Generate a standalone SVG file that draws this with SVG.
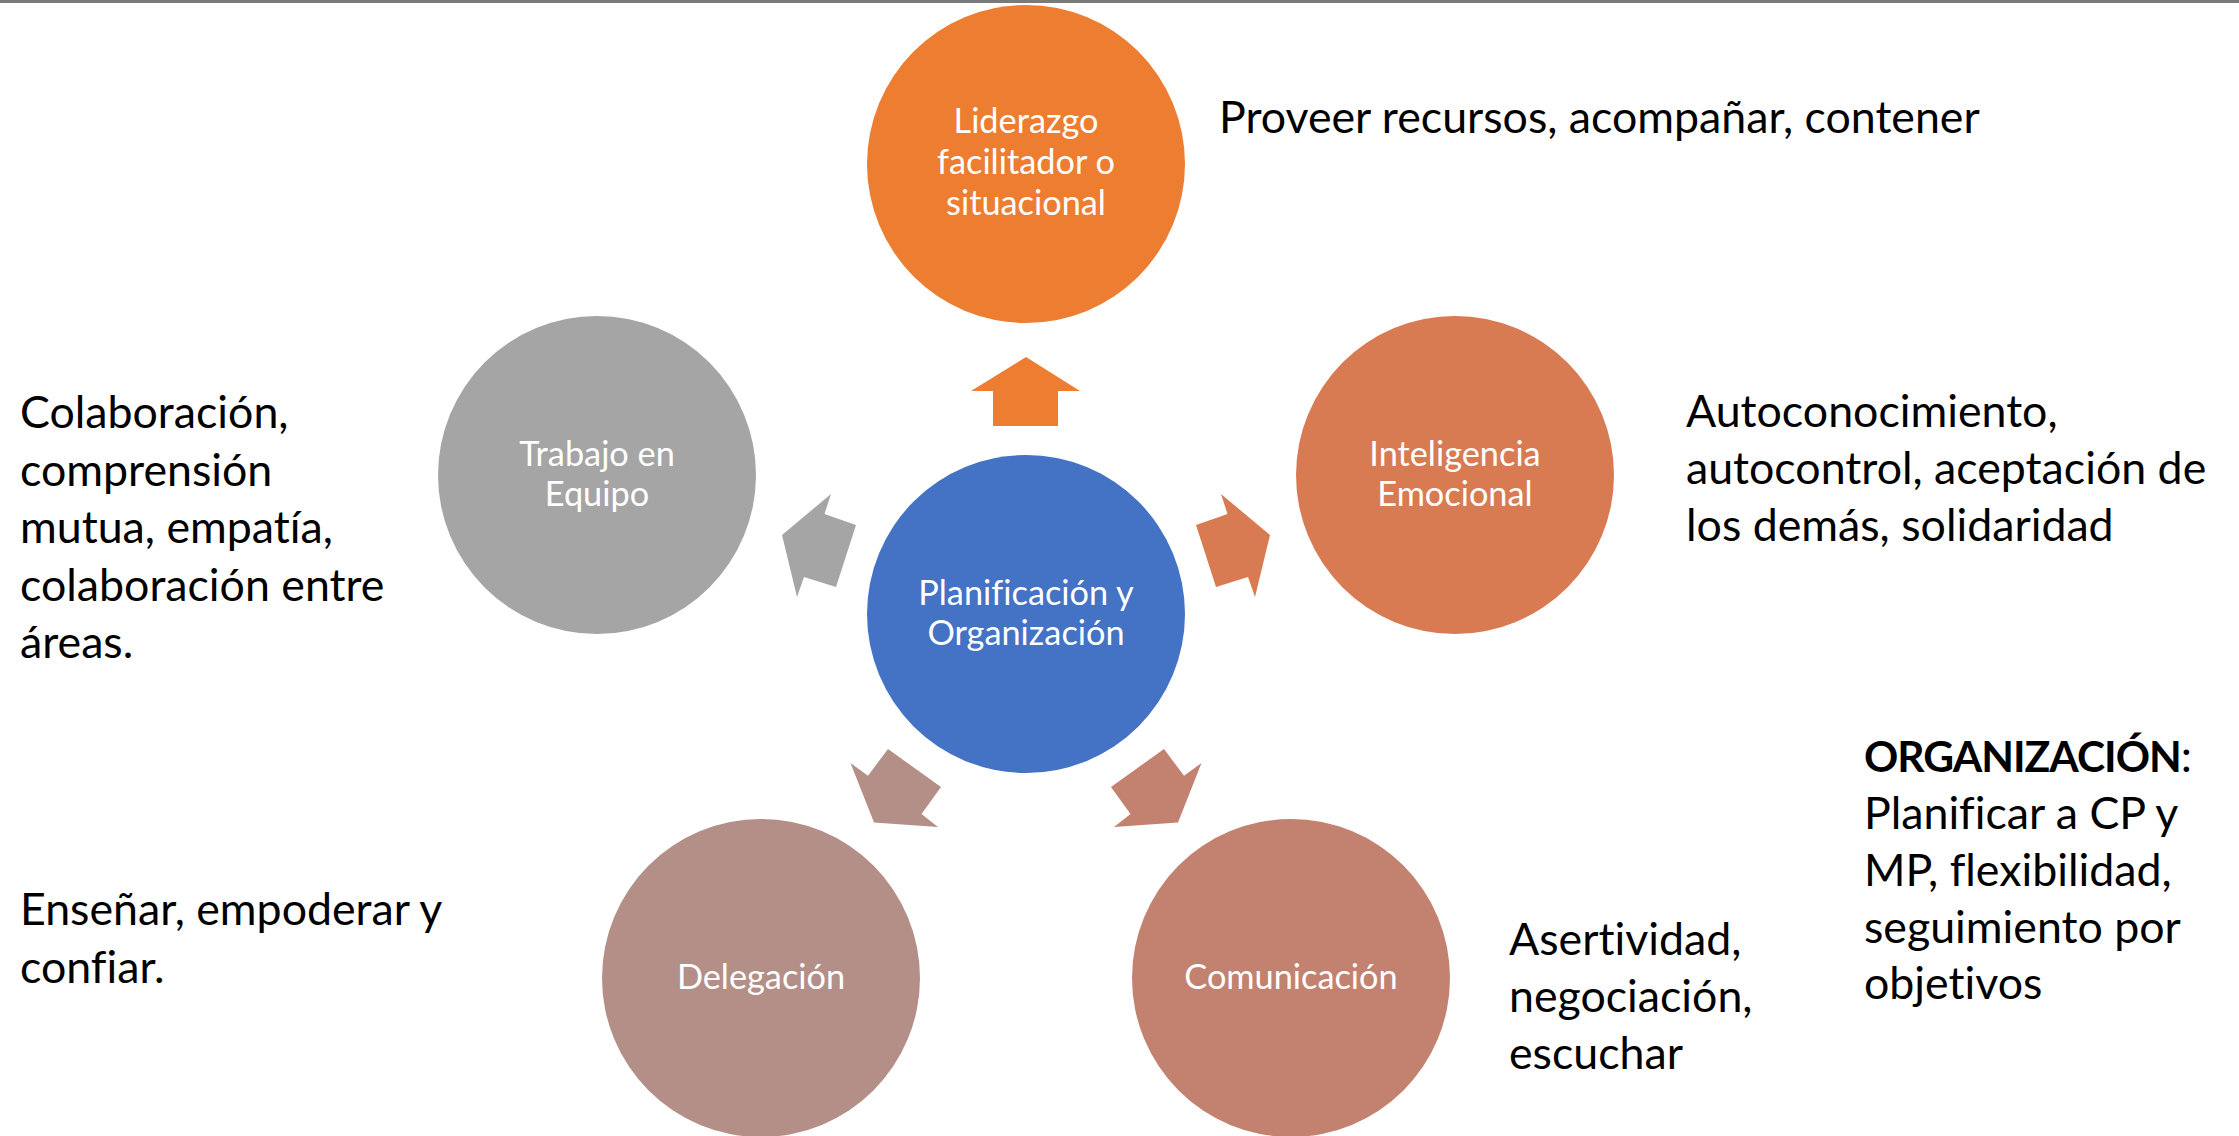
<svg xmlns="http://www.w3.org/2000/svg" width="2239" height="1136" viewBox="0 0 2239 1136">
<style>
text{font-variant-ligatures:none}
.lbl{font-family:Lato,"Open Sans","Liberation Sans",sans-serif;font-size:34.3px;fill:#ffffff;text-anchor:middle}
.txt{font-family:Lato,"Open Sans","Liberation Sans",sans-serif;font-size:44.7px;fill:#000000}
.b{font-weight:bold;font-size:42.5px;letter-spacing:-1px}
</style>
<rect x="0" y="0" width="2239" height="1136" fill="#ffffff"/>
<rect x="0" y="0" width="2239" height="3" fill="#7a7a7a"/>
<g id="connectors">
<polygon points="1026,357 1080,391 1058,391 1058,426 993,426 993,391 971,391" fill="#ED7D31"/>
<polygon points="1270,535 1255,597 1248,577 1216,587 1196,525 1227.5,514 1221,494" fill="#D87B52"/>
<polygon points="782,535 797,597 804,577 836,587 856,525 824.5,514 831,494" fill="#A5A5A5"/>
<polygon points="888,749 941,787 921.5,814 938,827 874,822.5 850.5,763 868,775.7" fill="#B38F88"/>
<polygon points="1164,749 1111,787 1130.5,814 1114,827 1178,822.5 1201.5,763 1184,775.7" fill="#C3826F"/>
</g>
<g id="center">
<circle cx="1026" cy="614" r="159" fill="#4472C4"/>
<text class="lbl" x="1026" y="605">Planificación y</text>
<text class="lbl" x="1026" y="645">Organización</text>
</g>
<g id="liderazgo">
<circle cx="1026" cy="164" r="159" fill="#ED7D31"/>
<text class="lbl" x="1026" y="133">Liderazgo</text>
<text class="lbl" x="1026" y="174">facilitador o</text>
<text class="lbl" x="1026" y="215">situacional</text>
</g>
<g id="inteligencia">
<circle cx="1455" cy="475" r="159" fill="#D87B52"/>
<text class="lbl" x="1455" y="466">Inteligencia</text>
<text class="lbl" x="1455" y="506">Emocional</text>
</g>
<g id="trabajo">
<circle cx="597" cy="475" r="159" fill="#A5A5A5"/>
<text class="lbl" x="597" y="466">Trabajo en</text>
<text class="lbl" x="597" y="506">Equipo</text>
</g>
<g id="delegacion">
<circle cx="761" cy="978" r="159" fill="#B38F88"/>
<text class="lbl" x="761" y="989">Delegación</text>
</g>
<g id="comunicacion">
<circle cx="1291" cy="978" r="159" fill="#C3826F"/>
<text class="lbl" x="1291" y="989">Comunicación</text>
</g>
<g id="texts">
<text class="txt" x="1219" y="133">Proveer recursos, acompañar, contener</text>
<text class="txt" x="1686" y="427">Autoconocimiento,</text>
<text class="txt" x="1686" y="484">autocontrol, aceptación de</text>
<text class="txt" x="1686" y="541">los demás, solidaridad</text>
<text class="txt" x="20" y="428">Colaboración,</text>
<text class="txt" x="20" y="486">comprensión</text>
<text class="txt" x="20" y="543">mutua, empatía,</text>
<text class="txt" x="20" y="601">colaboración entre</text>
<text class="txt" x="20" y="658">áreas.</text>
<text class="txt" x="20" y="925">Enseñar, empoderar y</text>
<text class="txt" x="20" y="983">confiar.</text>
<text class="txt" x="1509" y="955">Asertividad,</text>
<text class="txt" x="1509" y="1012">negociación,</text>
<text class="txt" x="1509" y="1069">escuchar</text>
<text class="txt" x="1864" y="772"><tspan class="b">ORGANIZACIÓN</tspan>:</text>
<text class="txt" x="1864" y="829">Planificar a CP y</text>
<text class="txt" x="1864" y="886">MP, flexibilidad,</text>
<text class="txt" x="1864" y="943">seguimiento por</text>
<text class="txt" x="1864" y="999">objetivos</text>
</g>
</svg>
